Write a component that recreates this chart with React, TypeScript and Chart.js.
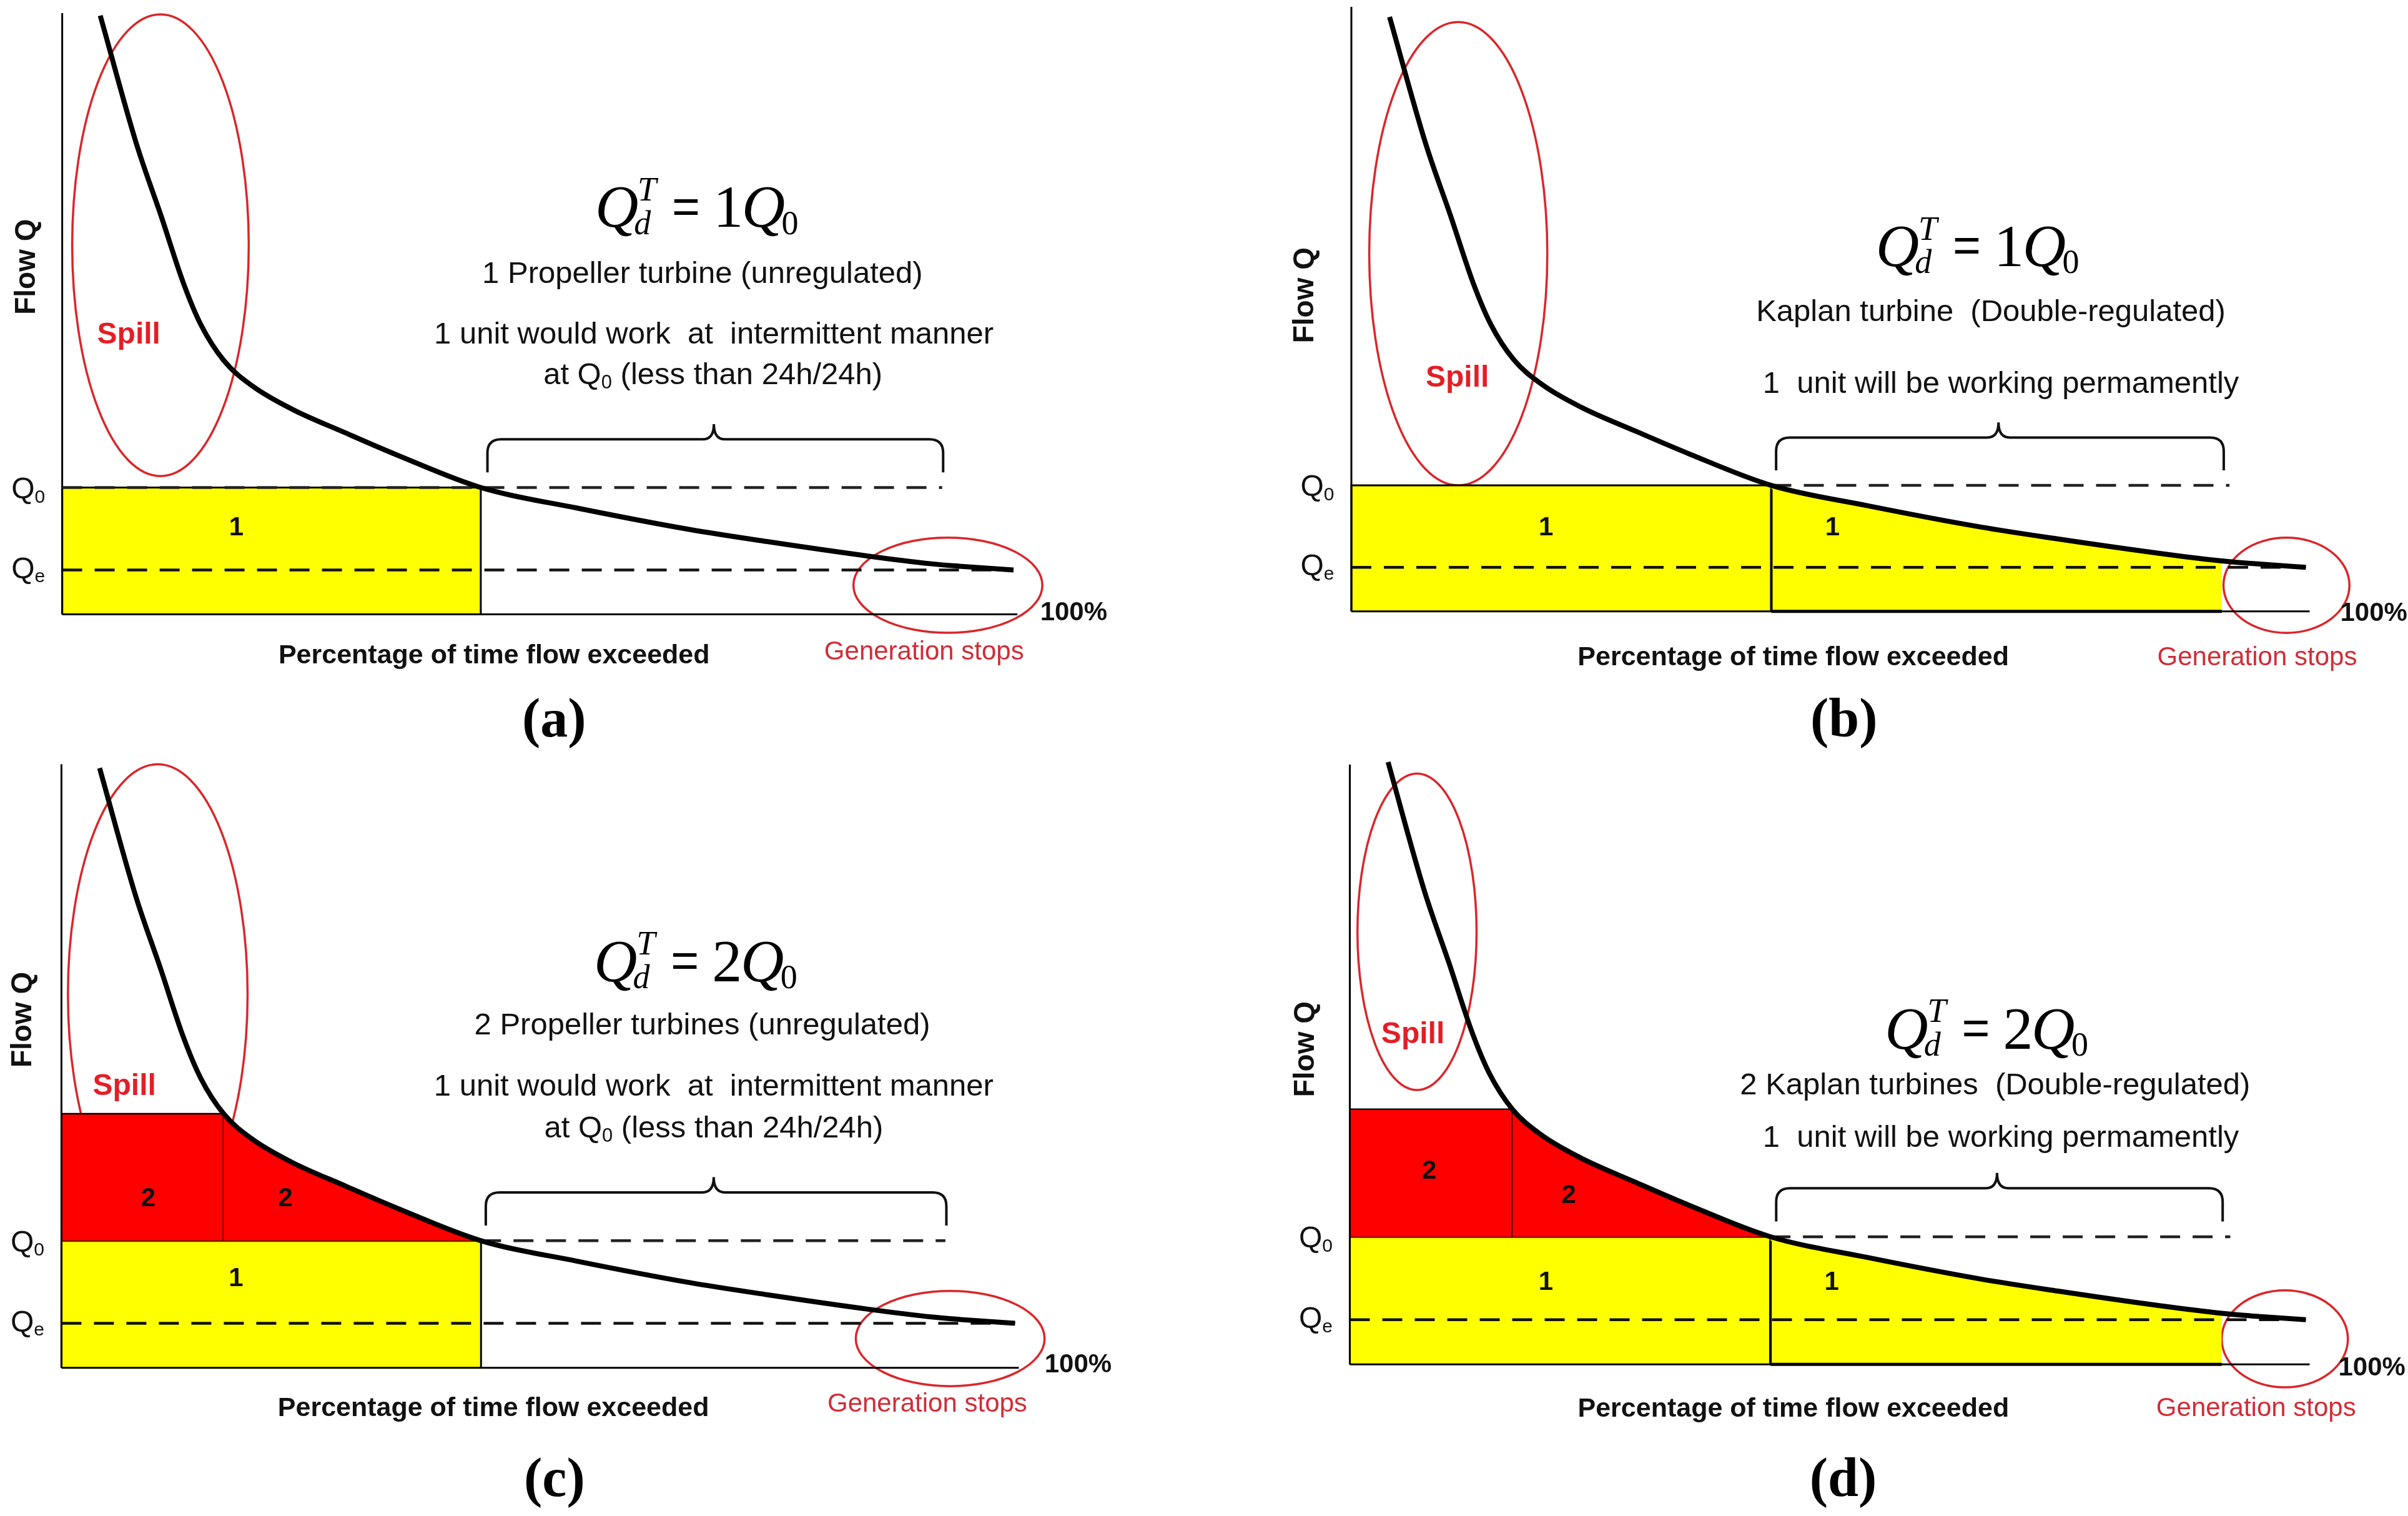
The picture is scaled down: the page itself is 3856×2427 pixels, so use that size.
import React, { useEffect, useRef } from "react";
import { Chart, registerables } from "chart.js";

Chart.register(...registerables);

// ---------------- DATA ----------------
// Flow duration curve: x = % of time flow exceeded, y = flow in units of Q0
const curveX = [4.0, 7.8, 10.4, 12.8, 14.6, 17.0, 20.0, 24.1, 29.8, 35.4, 44.0, 54.0, 65.9, 74.0, 84.7, 91.2, 94.3, 100];
const curveQ = [4.72, 3.71, 3.14, 2.6, 2.28, 2.0, 1.8, 1.62, 1.43, 1.25, 1.0, 0.84, 0.67, 0.575, 0.46, 0.4, 0.38, 0.35];

const Q0 = 1.0; // design flow of one unit
const QE = 0.35; // minimum (stop) flow
const Q2 = 2.0; // two units
const X_AT_Q0 = 44; // % time at which flow = Q0
const X_AT_2Q0 = 17; // % time at which flow = 2Q0
const X_REG_END = 91.2; // regulated unit stops
const X_END = 100;
const Y_MAX = 4.74;

const panelLetters = ["a", "b", "c", "d"];
const designFlowN = ["1", "1", "2", "2"];
const turbineText = [
  "1 Propeller turbine (unregulated)",
  "Kaplan turbine  (Double-regulated)",
  "2 Propeller turbines (unregulated)",
  "2 Kaplan turbines  (Double-regulated)",
];
const workText = [
  "1 unit would work  at  intermittent manner",
  "1  unit will be working permamently",
  "1 unit would work  at  intermittent manner",
  "1  unit will be working permamently",
];
const workText2 = ["at Q|0| (less than 24h/24h)", "", "at Q|0| (less than 24h/24h)", ""];
const isKaplan = [false, true, false, true];
const isTwoUnits = [false, false, true, true];
const q0DashStart = [0, 44, 44, 44];
const q0DashEnd = [92.5, 92.0, 92.7, 92.1];
const yAxisTop = [4.74, 4.8, 4.75, 4.7];

// ---------------- LAYOUT ----------------
const panelBoxes = [
  { canvas: [0, 0, 1928, 1213], left: 99.6, right: 1623, bottom: 983.6, unit: 203.1 },
  { canvas: [1928, 0, 1928, 1213], left: 2164, right: 3692.4, bottom: 978.7, unit: 201.6 },
  { canvas: [0, 1213, 1928, 1214], left: 98.4, right: 1625.4, bottom: 2189.7, unit: 203.4 },
  { canvas: [1928, 1213, 1928, 1214], left: 2161.5, right: 3692.4, bottom: 2184.3, unit: 204.3 },
];

type P = [number, number];
const annot: any[] = [
  {
    flowQ: [-3.71, 2.74], spill: [7.0, 2.2], formula: [66.7, 3.21], turbine: [67.3, 2.68],
    work: [[68.5, 2.2], [68.4, 1.9]], spillEll: [10.33, 2.91, 9.28, 1.82], genEll: [93.1, 0.23, 9.93, 0.375],
    brace: [44.7, 92.6, 68.5], ones: [[18.3, 0.68]], twos: [], pct: [102.8, 0.01],
    xTitle: [45.4, -0.33], gen: [90.6, -0.3], caption: [51.7, -0.85],
  },
  {
    flowQ: [-4.83, 2.51], spill: [11.1, 1.85], formula: [65.6, 2.9], turbine: [67.0, 2.37],
    work: [[68.05, 1.8]], spillEll: [11.2, 2.84, 9.33, 1.84], genEll: [97.97, 0.207, 6.6, 0.378],
    brace: [44.5, 91.4, 67.8], ones: [[20.4, 0.66], [50.4, 0.66]], twos: [], pct: [103.6, -0.02],
    xTitle: [46.3, -0.37], gen: [94.9, -0.37], caption: [51.6, -0.88],
  },
  {
    flowQ: [-4.0, 2.74], spill: [6.6, 2.21], formula: [66.5, 3.2], turbine: [67.2, 2.69],
    work: [[68.4, 2.21], [68.4, 1.9]], spillEll: [10.1, 2.94, 9.42, 1.81], genEll: [93.2, 0.23, 9.9, 0.375],
    brace: [44.5, 92.8, 68.4], ones: [[18.3, 0.7]], twos: [[9.1, 1.33], [23.5, 1.33]], pct: [103.1, 0.02],
    xTitle: [45.3, -0.32], gen: [90.8, -0.29], caption: [51.7, -0.9],
  },
  {
    flowQ: [-4.6, 2.47], spill: [6.6, 2.58], formula: [66.6, 2.63], turbine: [67.5, 2.18],
    work: [[68.1, 1.77]], spillEll: [7.03, 3.39, 6.23, 1.24], genEll: [97.8, 0.2, 6.6, 0.38],
    brace: [44.6, 91.3, 67.7], ones: [[20.5, 0.64], [50.4, 0.64]], twos: [[8.3, 1.51], [22.9, 1.32]], pct: [103.4, -0.03],
    xTitle: [46.4, -0.35], gen: [94.8, -0.35], caption: [51.6, -0.92],
  },
];
const BRACE_Y = { arm: 1.12, h: 1.38, peak: 1.5 };

const YELLOW = "#ffff00";
const RED = "#ff0000";
const ELLIPSE_RED = "rgb(218,38,42)";
const SPILL_RED = "rgb(228,30,38)";
const GEN_RED = "rgb(208,45,55)";
const SANS = '"Liberation Sans", Arial, sans-serif';
const SERIF = '"Liberation Serif", "Times New Roman", serif';

// ---------------- DRAW HELPERS ----------------
function text(ctx: CanvasRenderingContext2D, t: string, x: number, y: number, font: string, color: string, align: CanvasTextAlign = "center") {
  ctx.font = font;
  ctx.fillStyle = color;
  ctx.textAlign = align;
  ctx.textBaseline = "middle";
  ctx.fillText(t, x, y);
}

// "a|sub|b" => segments with subscript
function richText(ctx: CanvasRenderingContext2D, spec: string, x: number, y: number, size: number, subSize: number, align: "left" | "center" | "right", color: string) {
  const parts = spec.split("|");
  const segs = parts.map((t, i) => ({ t, sub: i % 2 === 1 }));
  let total = 0;
  const widths = segs.map((s) => {
    ctx.font = `${s.sub ? subSize : size}px ${SANS}`;
    const w = ctx.measureText(s.t).width;
    total += w;
    return w;
  });
  let cx = align === "center" ? x - total / 2 : align === "right" ? x - total : x;
  const base = y + size * 0.36;
  ctx.fillStyle = color;
  ctx.textAlign = "left";
  ctx.textBaseline = "alphabetic";
  segs.forEach((s, i) => {
    ctx.font = `${s.sub ? subSize : size}px ${SANS}`;
    ctx.fillText(s.t, cx, s.sub ? base + size * 0.14 : base);
    cx += widths[i];
  });
}

function drawFormula(ctx: CanvasRenderingContext2D, cx: number, cy: number, n: string) {
  const S = 96;
  const fQ = `italic ${S}px ${SERIF}`;
  const fS = `italic ${Math.round(S * 0.56)}px ${SERIF}`;
  const fSu = `${Math.round(S * 0.56)}px ${SERIF}`;
  const fEq = `${Math.round(S * 0.8)}px ${SANS}`;
  const fN = `${S}px ${SERIF}`;
  const m = (f: string, t: string) => {
    ctx.font = f;
    return ctx.measureText(t).width;
  };
  const wQ = m(fQ, "Q"), wT = m(fS, "T"), wd = m(fS, "d"), wEq = m(fEq, "="), wN = m(fN, n), w0 = m(fSu, "0");
  const xScr = wQ * 0.9;
  const xEq = xScr + Math.max(wT, wd) + S * 0.32;
  const xN = xEq + wEq + S * 0.22;
  const xQ2 = xN + wN * 0.95;
  const x0 = xQ2 + wQ * 0.92;
  const total = x0 + w0;
  const L = cx - total / 2;
  const base = cy + S * 0.33;
  ctx.fillStyle = "#000";
  ctx.textAlign = "left";
  ctx.textBaseline = "alphabetic";
  ctx.font = fQ;
  ctx.fillText("Q", L, base);
  ctx.font = fS;
  ctx.fillText("T", L + xScr + S * 0.06, base - S * 0.44);
  ctx.fillText("d", L + xScr, base + S * 0.12);
  ctx.font = fEq;
  ctx.fillText("=", L + xEq, base - S * 0.07);
  ctx.font = fN;
  ctx.fillText(n, L + xN, base);
  ctx.font = fQ;
  ctx.fillText("Q", L + xQ2, base);
  ctx.font = fSu;
  ctx.fillText("0", L + x0, base + S * 0.12);
}

function drawBrace(ctx: CanvasRenderingContext2D, xL: number, xR: number, xP: number, yArm: number, yH: number, yPk: number) {
  const r = 22, r2 = 18;
  ctx.save();
  ctx.strokeStyle = "#111";
  ctx.lineWidth = 4;
  ctx.beginPath();
  ctx.moveTo(xL, yArm);
  ctx.lineTo(xL, yH + r);
  ctx.quadraticCurveTo(xL, yH, xL + r, yH);
  ctx.lineTo(xP - r2, yH);
  ctx.quadraticCurveTo(xP, yH, xP, yPk);
  ctx.quadraticCurveTo(xP, yH, xP + r2, yH);
  ctx.lineTo(xR - r, yH);
  ctx.quadraticCurveTo(xR, yH, xR, yH + r);
  ctx.lineTo(xR, yArm);
  ctx.stroke();
  ctx.restore();
}

function makeAnnotPlugin(i: number) {
  const a = annot[i];
  return {
    id: "annot" + i,
    beforeDatasetsDraw(chart: any) {
      const ctx: CanvasRenderingContext2D = chart.ctx;
      const xs = chart.scales.x, ys = chart.scales.y;
      ctx.save();
      ctx.strokeStyle = ELLIPSE_RED;
      ctx.lineWidth = 3.5;
      for (const e of [a.spillEll, a.genEll]) {
        const cx = xs.getPixelForValue(e[0]);
        const cy = ys.getPixelForValue(e[1]);
        const rx = Math.abs(xs.getPixelForValue(e[0] + e[2]) - cx);
        const ry = Math.abs(ys.getPixelForValue(e[1] + e[3]) - cy);
        ctx.beginPath();
        ctx.ellipse(cx, cy, rx, ry, 0, 0, Math.PI * 2);
        ctx.stroke();
      }
      ctx.restore();
    },
    afterDatasetsDraw(chart: any) {
      const ctx: CanvasRenderingContext2D = chart.ctx;
      const xs = chart.scales.x, ys = chart.scales.y;
      const X = (v: number) => xs.getPixelForValue(v);
      const Y = (v: number) => ys.getPixelForValue(v);
      ctx.save();
      // Flow Q (rotated)
      ctx.save();
      ctx.translate(X(a.flowQ[0]), Y(a.flowQ[1]));
      ctx.rotate(-Math.PI / 2);
      text(ctx, "Flow Q", 0, 0, `bold 46px ${SANS}`, "#111");
      ctx.restore();
      // Spill
      text(ctx, "Spill", X(a.spill[0]), Y(a.spill[1]), `bold 48px ${SANS}`, SPILL_RED);
      // formula
      drawFormula(ctx, X(a.formula[0]), Y(a.formula[1]), designFlowN[i]);
      // descriptions
      text(ctx, turbineText[i], X(a.turbine[0]), Y(a.turbine[1]), `49px ${SANS}`, "#111");
      text(ctx, workText[i], X(a.work[0][0]), Y(a.work[0][1]), `49px ${SANS}`, "#111");
      if (workText2[i] && a.work[1]) {
        richText(ctx, workText2[i], X(a.work[1][0]), Y(a.work[1][1]), 49, 31, "center", "#111");
      }
      // brace
      drawBrace(ctx, X(a.brace[0]), X(a.brace[1]), X(a.brace[2]), Y(BRACE_Y.arm), Y(BRACE_Y.h), Y(BRACE_Y.peak));
      // axis level labels
      richText(ctx, "Q|0|", X(-1.8), Y(Q0), 48, 30, "right", "#111");
      richText(ctx, "Q|e|", X(-1.8), Y(QE + 0.02), 48, 30, "right", "#111");
      // unit numbers
      for (const p of a.ones as P[]) text(ctx, "1", X(p[0]), Y(p[1]), `bold 42px ${SANS}`, "#111");
      for (const p of a.twos as P[]) text(ctx, "2", X(p[0]), Y(p[1]), `bold 42px ${SANS}`, "#111");
      // x-axis labels
      text(ctx, "100%", X(a.pct[0]), Y(a.pct[1]), `bold 42px ${SANS}`, "#111", "left");
      text(ctx, "Percentage of time flow exceeded", X(a.xTitle[0]), Y(a.xTitle[1]), `bold 43px ${SANS}`, "#111");
      text(ctx, "Generation stops", X(a.gen[0]), Y(a.gen[1]), `42px ${SANS}`, GEN_RED);
      // caption
      ctx.font = `bold 88px ${SERIF}`;
      ctx.fillStyle = "#000";
      ctx.textAlign = "center";
      ctx.textBaseline = "middle";
      ctx.fillText(`(${panelLetters[i]})`, X(a.caption[0]), Y(a.caption[1]));
      ctx.restore();
    },
  };
}

function buildDatasets(i: number) {
  const curve = curveX.map((x, k) => ({ x, y: curveQ[k] }));
  const ds: any[] = [
    {
      label: "Flow duration curve",
      data: curve,
      borderColor: "#000",
      borderWidth: 8,
      cubicInterpolationMode: "monotone",
      order: 1,
    },
    {
      label: "Qe",
      data: [{ x: 0, y: QE }, { x: X_END, y: QE }],
      borderColor: "#111",
      borderWidth: 4.5,
      borderDash: [32, 20],
      order: 2,
    },
    {
      label: "Q0",
      data: [{ x: q0DashStart[i], y: Q0 }, { x: q0DashEnd[i], y: Q0 }],
      borderColor: "#222",
      borderWidth: 4.5,
      borderDash: [32, 20],
      order: 2,
    },
    {
      label: "x axis",
      data: [{ x: 0, y: 0 }, { x: X_END + 0.4, y: 0 }],
      borderColor: "#000",
      borderWidth: 3,
      order: 3,
    },
    {
      label: "y axis",
      data: [{ x: 0, y: 0 }, { x: 0, y: yAxisTop[i] }],
      borderColor: "#000",
      borderWidth: 3,
      order: 3,
    },
    {
      label: "Unit 1 (constant Q0)",
      data: [{ x: 0, y: 0 }, { x: 0, y: Q0 }, { x: X_AT_Q0, y: Q0 }, { x: X_AT_Q0, y: 0 }],
      fill: "origin",
      backgroundColor: YELLOW,
      borderColor: "#000",
      borderWidth: 3,
      order: 10,
    },
  ];
  if (isKaplan[i]) {
    ds.push(
      {
        label: "Unit 1 regulated",
        data: curve.filter((p) => p.x >= X_AT_Q0 && p.x <= X_REG_END),
        fill: "origin",
        backgroundColor: YELLOW,
        borderWidth: 0,
        borderColor: "rgba(0,0,0,0)",
        cubicInterpolationMode: "monotone",
        order: 9,
      },
      {
        label: "regulated edge",
        data: [{ x: X_AT_Q0, y: 0 }, { x: X_AT_Q0, y: Q0 - 0.03 }],
        borderColor: "#000",
        borderWidth: 4,
        order: 5,
      },
      {
        label: "regulated base",
        data: [{ x: X_AT_Q0, y: 0 }, { x: X_REG_END, y: 0 }],
        borderColor: "#000",
        borderWidth: 5,
        order: 5,
      }
    );
  }
  if (isTwoUnits[i]) {
    ds.push(
      {
        label: "Unit 2 (constant Q0)",
        data: [{ x: 0, y: Q0 }, { x: 0, y: Q2 }, { x: X_AT_2Q0, y: Q2 }, { x: X_AT_2Q0, y: Q0 }],
        fill: { value: Q0 },
        backgroundColor: RED,
        borderColor: "#000",
        borderWidth: 2.5,
        order: 8,
      },
      {
        label: "Unit 2 under curve",
        data: curve.filter((p) => p.x >= X_AT_2Q0 && p.x <= X_AT_Q0),
        fill: { value: Q0 },
        backgroundColor: RED,
        borderWidth: 0,
        borderColor: "rgba(0,0,0,0)",
        cubicInterpolationMode: "monotone",
        order: 7,
      }
    );
  }
  return ds.map((d) => ({ pointRadius: 0, pointHoverRadius: 0, tension: 0, clip: false, ...d }));
}

function Panel({ i }: { i: number }) {
  const ref = useRef<HTMLCanvasElement | null>(null);
  const box = panelBoxes[i];
  const [cx, cy, cw, ch] = box.canvas;
  useEffect(() => {
    if (!ref.current) return;
    const top = box.bottom - Y_MAX * box.unit;
    const chart = new Chart(ref.current, {
      type: "line",
      data: { datasets: buildDatasets(i) },
      options: {
        animation: false,
        responsive: false,
        events: [],
        devicePixelRatio: 1,
        layout: {
          padding: {
            left: box.left - cx,
            right: cx + cw - box.right,
            top: top - cy,
            bottom: cy + ch - box.bottom,
          },
        },
        plugins: { legend: { display: false }, tooltip: { enabled: false } },
        scales: {
          x: { type: "linear", min: 0, max: X_END, display: false },
          y: { type: "linear", min: 0, max: Y_MAX, display: false },
        },
      } as any,
      plugins: [makeAnnotPlugin(i) as any],
    });
    return () => chart.destroy();
  }, [i]);
  return (
    <canvas
      ref={ref}
      width={cw}
      height={ch}
      style={{ position: "absolute", left: cx, top: cy, width: cw, height: ch, display: "block" }}
    />
  );
}

export default function App() {
  return (
    <div style={{ position: "absolute", left: 0, top: 0, width: 3856, height: 2427, background: "#fff", overflow: "hidden" }}>
      {[0, 1, 2, 3].map((i) => (
        <Panel key={i} i={i} />
      ))}
    </div>
  );
}
